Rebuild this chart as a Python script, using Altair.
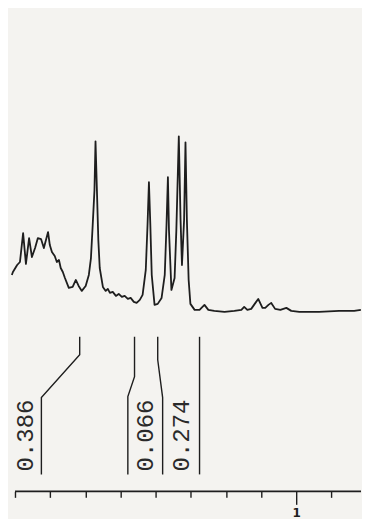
import altair as alt
import pandas as pd

# ---- spectrum (chemical shift in ppm, relative intensity) ----
spec_ppm = [1.809, 1.806, 1.794, 1.786, 1.777, 1.769, 1.760, 1.752, 1.743, 1.735,
            1.726, 1.718, 1.706, 1.701, 1.695, 1.687, 1.681, 1.675, 1.670, 1.664,
            1.658, 1.647, 1.636, 1.627, 1.619, 1.610, 1.599, 1.590, 1.584, 1.579,
            1.574, 1.571, 1.567, 1.563, 1.559, 1.550, 1.542, 1.536, 1.530, 1.522,
            1.513, 1.505, 1.496, 1.488, 1.479, 1.471, 1.462, 1.454, 1.445, 1.437,
            1.428, 1.423, 1.419, 1.415, 1.411, 1.403, 1.394, 1.383, 1.374, 1.369,
            1.365, 1.362, 1.355, 1.346, 1.341, 1.334, 1.329, 1.325, 1.319, 1.315,
            1.311, 1.306, 1.301, 1.289, 1.275, 1.261, 1.250, 1.233, 1.204, 1.176,
            1.156, 1.148, 1.139, 1.128, 1.116, 1.108, 1.096, 1.088, 1.079, 1.071,
            1.060, 1.045, 1.028, 1.014, 0.991, 0.935, 0.878, 0.835, 0.816]
spec_int = [37, 40, 47, 50, 79, 48, 74, 55, 64, 74,
            73, 64, 80, 67, 60, 56, 50, 52, 44, 40,
            34, 24, 25, 32, 26, 21, 26, 37, 54, 87,
            122, 171, 122, 72, 44, 25, 21, 23, 19, 20,
            16, 18, 15, 16, 13, 14, 10, 9, 12, 17,
            42, 87, 130, 87, 37, 7, 8, 14, 37, 87,
            135, 82, 22, 34, 82, 176, 92, 47, 92, 170,
            92, 32, 8, 2, 2, 7, 2, 1, 0, 1,
            2, 5, 2, 3, 9, 13, 4, 4, 7, 9,
            3, 2, 4, 1, 0, 0, 1, 1, 2]

# ---- integral step traces ----
integ_trace = ["A", "A", "A", "A", "B", "B", "B", "B", "C", "C", "C", "C", "D", "D"]
integ_ppm = [1.616, 1.616, 1.725, 1.725, 1.460, 1.460, 1.479, 1.479,
             1.394, 1.394, 1.380, 1.380, 1.275, 1.275]
integ_int = [-25, -43, -86, -163, -25, -65, -85, -163,
             -25, -48, -86, -163, -25, -163]
integ_seq = [0, 1, 2, 3, 0, 1, 2, 3, 0, 1, 2, 3, 0, 1]

# ---- integral values ----
label_text = ["0.386", "0.066", "0.274"]
label_ppm = [1.769, 1.428, 1.326]
label_int = [-124, -124, -124]

# ---- axis ----
tick_values = [1.8, 1.7, 1.6, 1.5, 1.4, 1.3, 1.2, 1.1, 1.0, 0.9]
axis_start = [1.8]
axis_end = [0.8156]
axis_level = [-180]

INK = "#1e1e1e"
BG = "#f4f3f0"

xscale = alt.Scale(domain=[0.8156, 1.820], reverse=True, nice=False, zero=False)
yscale = alt.Scale(domain=[-180, 304], nice=False, zero=False)

xaxis = alt.Axis(
    values=tick_values,
    domain=False,
    grid=False,
    title=None,
    tickColor=INK,
    tickWidth=1.4,
    tickSize={"condition": {"test": "abs(datum.value - 1) < 0.001", "value": 13}, "value": 6},
    labelExpr="abs(datum.value - 1) < 0.001 ? '1' : ''",
    labelFont="DejaVu Sans",
    labelFontSize=12,
    labelFontWeight="bold",
    labelColor=INK,
    labelPadding=3,
    labelFlush=False,
    labelOverlap=False,
)

spec_df = pd.DataFrame({"ppm": spec_ppm, "intensity": spec_int})
integ_df = pd.DataFrame({"trace": integ_trace, "ppm": integ_ppm,
                         "intensity": integ_int, "seq": integ_seq})
label_df = pd.DataFrame({"text": label_text, "ppm": label_ppm, "intensity": label_int})
axis_df = pd.DataFrame({"start": axis_start, "end": axis_end, "level": axis_level})

spectrum = alt.Chart(spec_df).mark_line(color=INK, strokeWidth=1.8, strokeJoin="round").encode(
    x=alt.X("ppm:Q", scale=xscale, axis=xaxis),
    y=alt.Y("intensity:Q", scale=yscale, axis=None),
    order=alt.Order("ppm:Q", sort="descending"),
)

integrals = alt.Chart(integ_df).mark_line(color=INK, strokeWidth=1.4).encode(
    x=alt.X("ppm:Q", scale=xscale, axis=xaxis),
    y=alt.Y("intensity:Q", scale=yscale, axis=None),
    detail="trace:N",
    order="seq:Q",
)

labels = alt.Chart(label_df).mark_text(
    angle=270, align="center", baseline="middle",
    font="Liberation Mono", fontSize=24, color="#2a2a2a",
).encode(
    x=alt.X("ppm:Q", scale=xscale, axis=xaxis),
    y=alt.Y("intensity:Q", scale=yscale, axis=None),
    text="text:N",
)

axis_line = alt.Chart(axis_df).mark_rule(color=INK, strokeWidth=1.6).encode(
    x=alt.X("start:Q", scale=xscale, axis=xaxis),
    x2="end:Q",
    y=alt.Y("level:Q", scale=yscale, axis=None),
)

chart = alt.layer(spectrum, integrals, labels, axis_line).properties(
    width=354, height=484, background=BG, padding=0,
).configure_view(stroke=None)

chart.save("out.html", embed_options={"renderer": "svg", "actions": False})
